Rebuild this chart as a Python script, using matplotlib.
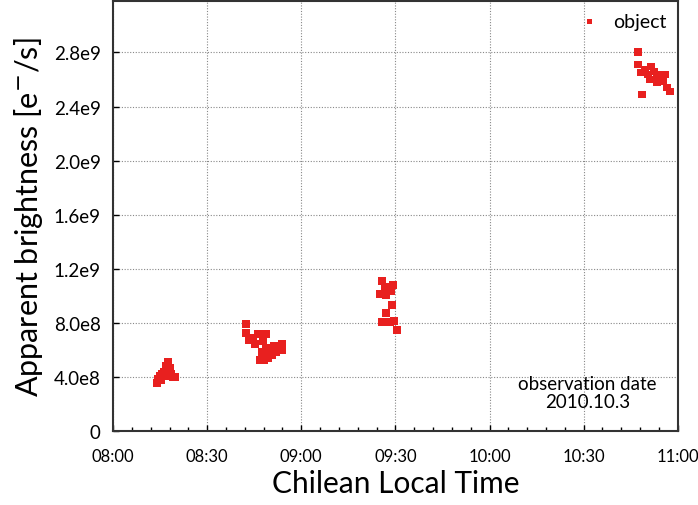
import matplotlib
matplotlib.use('Agg')
from matplotlib import pyplot as plt
from matplotlib.ticker import MultipleLocator

plt.rcParams['font.family'] = ['Lato', 'DejaVu Sans']

# minutes after 08:00 (Chilean local time), brightness in units of 1e8 e-/s
t1 = [14.0, 14.3, 15.3, 15.0, 15.6, 16.2, 16.9, 16.9, 17.5, 18.2, 18.5, 19.1, 19.8, 17.5]
v1 = [3.56, 3.85, 3.78, 4.07, 4.22, 4.37, 4.52, 4.81, 5.11, 4.67, 4.22, 4.00, 4.00, 4.07]

t2 = [42.4, 42.4, 44.6, 46.2, 43.3, 47.8, 48.7, 44.0, 45.2, 47.5, 48.7, 50.0,
      51.3, 52.6, 53.8, 53.8, 51.9, 50.7, 49.4, 47.5, 46.8, 48.1, 50.0]
v2 = [7.93, 7.26, 6.89, 7.19, 6.74, 6.67, 7.19, 6.74, 6.44, 5.85, 6.07, 6.15,
      6.30, 6.15, 6.44, 6.00, 5.85, 5.63, 5.41, 5.63, 5.26, 5.26, 5.85]

t3 = [85.7, 86.7, 89.2, 87.0, 88.6, 85.1, 88.9, 87.0, 85.7, 88.2, 89.5, 90.5]
v3 = [11.11, 10.67, 10.81, 10.07, 10.37, 10.15, 9.33, 8.74, 8.07, 8.07, 8.15, 7.48]

t4 = [167.3, 167.3, 169.5, 171.4, 168.2, 170.4, 172.3, 173.3, 171.1, 174.3,
      175.8, 173.3, 175.2, 176.5, 177.4, 168.5, 174.3]
v4 = [28.0, 27.11, 26.74, 26.96, 26.52, 26.37, 26.59, 26.30, 26.0, 26.0,
      26.37, 25.78, 25.85, 25.41, 25.11, 24.89, 26.15]

xticks = [0, 30, 60, 90, 120, 150, 180]
xlabels = ['08:00', '08:30', '09:00', '09:30', '10:00', '10:30', '11:00']
yticks = [0, 4, 8, 12, 16, 20, 24, 28]
ylabels = ['0', '4.0e8', '8.0e8', '1.2e9', '1.6e9', '2.0e9', '2.4e9', '2.8e9']

t = t1 + t2 + t3 + t4
v = v1 + v2 + v3 + v4

fig = plt.figure(figsize=(6.98, 5.06), dpi=100)
ax = fig.add_axes([0.162, 0.146, 0.809, 0.85])

ax.scatter(t, v, marker='s', s=32, color='#e8201f', edgecolors='none',
           label='object', zorder=3)

ax.set_xlim(0, 180)
ax.set_ylim(0, 31.8)
ax.set_xticks(xticks)
ax.set_xticklabels(xlabels, fontsize=12)
ax.set_yticks(yticks)
ax.set_yticklabels(ylabels, fontsize=13.5)
ax.xaxis.set_minor_locator(MultipleLocator(6))
ax.tick_params(direction='in', length=4, width=1)
ax.tick_params(axis='x', pad=12)
ax.tick_params(axis='y', pad=9)
ax.tick_params(which='minor', direction='in', length=3, width=1)
ax.grid(True, linestyle=(0, (1, 1.5)), color='#888888', linewidth=0.8)
for s in ax.spines.values():
    s.set_linewidth(1.5)
    s.set_color('#333333')

ax.set_xlabel('Chilean Local Time', fontsize=21.5, labelpad=4)
ax.set_ylabel('Apparent brightness [e$^{-}$/s]', fontsize=22, labelpad=6)

ax.text(0.84, 0.09, 'observation date\n2010.10.3', transform=ax.transAxes,
        ha='center', va='center', fontsize=13.5, linespacing=1.05)

ax.legend(loc='upper right', frameon=False, fontsize=14, handletextpad=0.2,
          markerscale=0.6, borderaxespad=0.2)

plt.savefig('out.png', dpi=100)
